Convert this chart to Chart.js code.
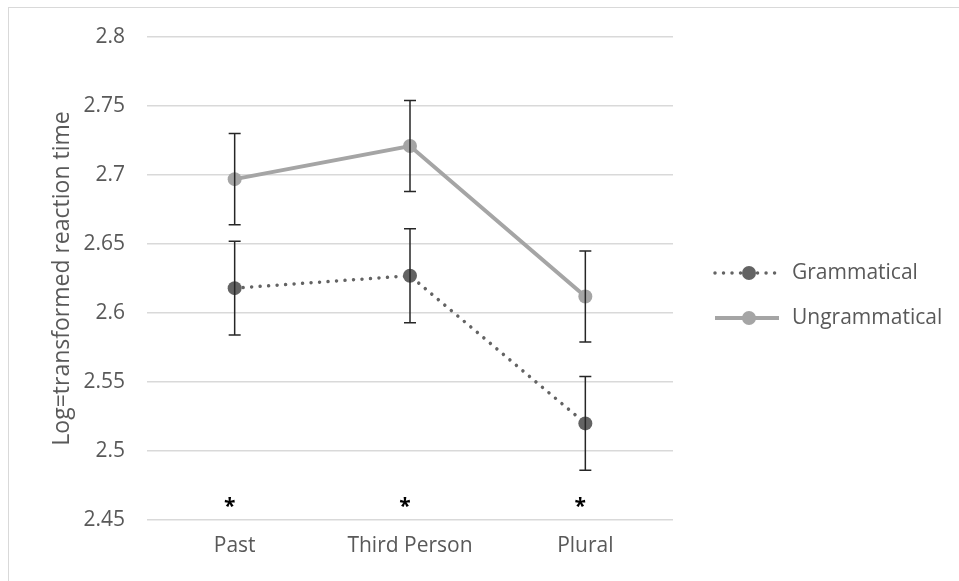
<!DOCTYPE html>
<html>
<head>
<meta charset="utf-8">
<script src="https://cdn.jsdelivr.net/npm/chart.js@4"></script>
<style>
  html, body { margin: 0; padding: 0; background: #fff; overflow: hidden; }
  #wrap { position: relative; width: 959px; height: 581px; }
  #frame { position: absolute; left: 8px; top: 7px; width: 1000px; height: 700px; border: 1px solid #d9d9d9; box-sizing: border-box; }
  canvas { position: absolute; left: 0; top: 0; }
</style>
</head>
<body>
<div id="wrap">
  <div id="frame"></div>
  <canvas id="chart" width="959" height="581"></canvas>
</div>
<script>
// data
const categories = ['Past', 'Third Person', 'Plural'];
const grammatical = [2.618, 2.627, 2.520];
const ungrammatical = [2.697, 2.721, 2.612];
const errGrammatical = [0.034, 0.034, 0.034];
const errUngrammatical = [0.033, 0.033, 0.033];
const sigMarks = ['*', '*', '*'];
const sigLevel = [2.462, 2.462, 2.462];
const yTicks = [2.45, 2.5, 2.55, 2.6, 2.65, 2.7, 2.75, 2.8];

const TEXT = '#595959';
const FONT = '"Open Sans", sans-serif';

// error bars + significance stars
const extras = {
  id: 'extras',
  afterDatasetsDraw(chart) {
    const { ctx, scales: { x, y } } = chart;
    const errs = [errGrammatical, errUngrammatical];
    ctx.save();
    ctx.strokeStyle = '#262626';
    ctx.lineWidth = 1.5;
    chart.data.datasets.forEach((ds, i) => {
      ds.data.forEach((v, j) => {
        const px = x.getPixelForValue(j);
        const top = y.getPixelForValue(v + errs[i][j]);
        const bot = y.getPixelForValue(v - errs[i][j]);
        ctx.beginPath();
        ctx.moveTo(px, top); ctx.lineTo(px, bot);
        ctx.moveTo(px - 6, top); ctx.lineTo(px + 6, top);
        ctx.moveTo(px - 6, bot); ctx.lineTo(px + 6, bot);
        ctx.stroke();
      });
    });
    ctx.fillStyle = '#000';
    ctx.font = 'bold 21px ' + FONT;
    ctx.textAlign = 'center';
    ctx.textBaseline = 'middle';
    sigMarks.forEach((m, j) => {
      ctx.fillText(m, x.getPixelForValue(j) - 5, y.getPixelForValue(sigLevel[j]) + 4);
    });
    ctx.restore();
  }
};

// legend drawn like the Excel one: line sample with marker in the middle
const sideLegend = {
  id: 'sideLegend',
  afterDraw(chart) {
    const { ctx, chartArea } = chart;
    const x0 = chartArea.right + 42;
    ctx.save();
    chart.data.datasets.forEach((ds, i) => {
      const cy = 273 + i * 45;
      ctx.beginPath();
      ctx.strokeStyle = ds.borderColor;
      ctx.lineWidth = ds.borderWidth;
      ctx.lineCap = ds.borderCapStyle || 'butt';
      ctx.setLineDash(ds.borderDash || []);
      ctx.moveTo(x0, cy); ctx.lineTo(x0 + 64, cy);
      ctx.stroke();
      ctx.setLineDash([]);
      ctx.beginPath();
      ctx.fillStyle = ds.pointBackgroundColor;
      ctx.arc(x0 + 34, cy, ds.pointRadius, 0, Math.PI * 2);
      ctx.fill();
      ctx.fillStyle = TEXT;
      ctx.font = '21px ' + FONT;
      ctx.textBaseline = 'middle';
      ctx.fillText(ds.label, x0 + 77, cy);
    });
    ctx.restore();
  }
};

new Chart(document.getElementById('chart'), {
  type: 'line',
  data: {
    labels: categories,
    datasets: [{
      label: 'Grammatical',
      data: grammatical,
      borderColor: '#636363',
      borderWidth: 3.5,
      borderDash: [0.01, 8.5],
      borderCapStyle: 'round',
      pointRadius: 7,
      pointBackgroundColor: '#636363',
      pointBorderWidth: 0,
      tension: 0
    }, {
      label: 'Ungrammatical',
      data: ungrammatical,
      borderColor: '#a5a5a5',
      borderWidth: 4,
      pointRadius: 7,
      pointBackgroundColor: '#a5a5a5',
      pointBorderWidth: 0,
      tension: 0
    }]
  },
  options: {
    responsive: false,
    animation: false,
    layout: { padding: { top: 37, right: 286, left: 0, bottom: 0 } },
    plugins: { legend: { display: false }, tooltip: { enabled: false } },
    scales: {
      x: {
        offset: true,
        grid: { display: false, drawTicks: false },
        border: { display: false },
        ticks: { color: TEXT, font: { family: FONT, size: 21 }, padding: 13 },
        afterFit: s => { s.height = 61; }
      },
      y: {
        min: 2.45,
        max: 2.8,
        afterBuildTicks: s => { s.ticks = yTicks.map(v => ({ value: v })); },
        grid: { color: '#d9d9d9', lineWidth: 1.5, drawTicks: false },
        border: { display: false },
        ticks: {
          color: TEXT,
          font: { family: FONT, size: 21 },
          padding: 22,
          callback: v => String(Number(v.toFixed(2)))
        },
        title: {
          display: true,
          text: 'Log=transformed reaction time',
          color: TEXT,
          font: { family: FONT, size: 23 },
          padding: { top: 49, bottom: 0 }
        },
        afterFit: s => { s.width = 147; }
      }
    }
  },
  plugins: [extras, sideLegend]
});
</script>
</body>
</html>
